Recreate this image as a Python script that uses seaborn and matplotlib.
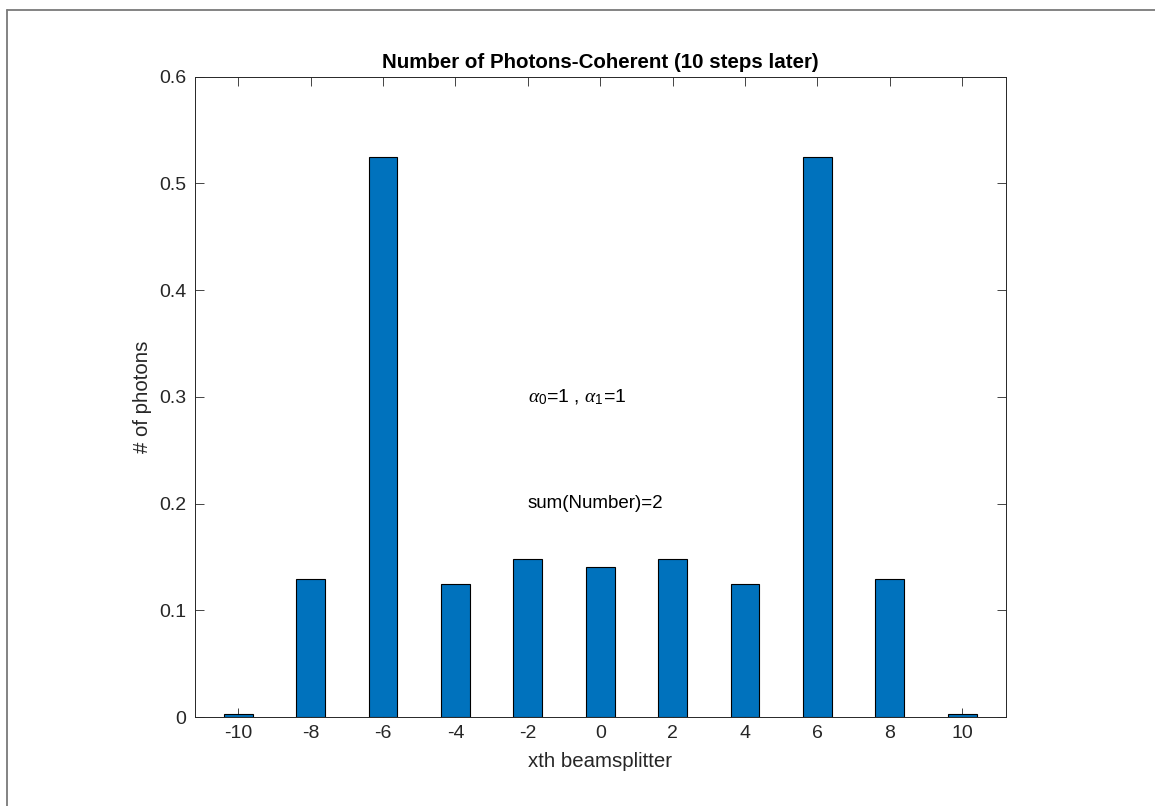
import matplotlib
matplotlib.use("Agg")
import matplotlib.pyplot as plt
from matplotlib.lines import Line2D
import seaborn as sns
import pandas as pd

# Beamsplitter index and mean photon number after 10 steps
splitters = [-10, -8, -6, -4, -2, 0, 2, 4, 6, 8, 10]
photons = [0.0025, 0.129, 0.525, 0.125, 0.148, 0.141, 0.148, 0.125, 0.525, 0.129, 0.0025]
y_ticks = [0, 0.1, 0.2, 0.3, 0.4, 0.5, 0.6]
y_tick_labels = ["0", "0.1", "0.2", "0.3", "0.4", "0.5", "0.6"]

sns.set_theme(style="white")
plt.rcParams["font.family"] = ["Liberation Sans", "DejaVu Sans"]
plt.rcParams["mathtext.fontset"] = "custom"
plt.rcParams["mathtext.it"] = "Liberation Serif:italic"
plt.rcParams["mathtext.rm"] = "Liberation Sans"

df = pd.DataFrame({"splitter": splitters, "photons": photons})

fig = plt.figure(figsize=(11.55, 8.06), dpi=100)
ax = fig.add_axes([0.1686, 0.1104, 0.8707 - 0.1686, 0.9048 - 0.1104])

sns.barplot(data=df, x="splitter", y="photons", native_scale=True, width=0.4,
            color="#0072BD", saturation=1, edgecolor="black", linewidth=0.8, ax=ax)

axis_col = "#262626"
ax.set_xlim(-11.2, 11.2)
ax.set_ylim(0, 0.6)
ax.set_xticks(splitters)
ax.set_xticklabels([str(s) for s in splitters])
ax.set_yticks(y_ticks)
ax.set_yticklabels(y_tick_labels)
ax.tick_params(axis="both", direction="in", length=6.5, width=0.6, color=axis_col,
               labelsize=14, labelcolor=axis_col, top=True, right=True,
               bottom=True, left=True, pad=6)
for side in ax.spines.values():
    side.set_visible(True)
    side.set_color(axis_col)
    side.set_linewidth(0.7)

ax.set_xlabel("xth beamsplitter", fontsize=14.7, color=axis_col, labelpad=7)
ax.set_ylabel("# of photons", fontsize=14.7, color=axis_col, labelpad=5)
ax.set_title("Number of Photons-Coherent (10 steps later)", fontsize=14.8,
             fontweight="bold", color="black", pad=6)

ax.text(-2, 0.3, r"$\alpha_{\rm 0}$=1 , $\alpha_{\rm 1}$=1", fontsize=14,
        ha="left", va="center", color="black")
ax.text(-2, 0.2, "sum(Number)=2", fontsize=13.5, ha="left", va="center", color="black")

# Outer frame along the top and left of the canvas
W, H = 1155, 806
frame_col = "#7a7a7a"
fig.add_artist(Line2D([6.5 / W, 6.5 / W], [0, 1 - 10 / H], color=frame_col, lw=1.3,
                      transform=fig.transFigure))
fig.add_artist(Line2D([6.5 / W, 1], [1 - 10 / H, 1 - 10 / H], color=frame_col, lw=1.3,
                      transform=fig.transFigure))

fig.savefig("out.png", dpi=100, facecolor="white")
